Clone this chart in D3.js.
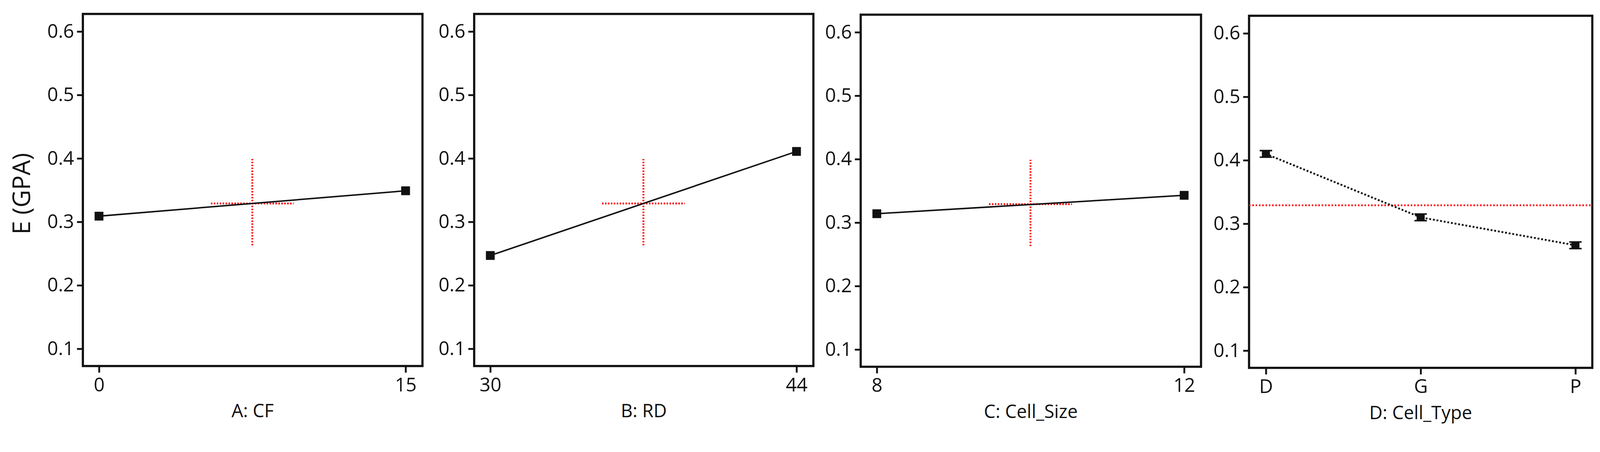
<!DOCTYPE html>
<html>
<head>
<meta charset="utf-8">
<script src="https://d3js.org/d3.v7.min.js"></script>
<style>
  html, body { margin: 0; padding: 0; background: #fff; overflow: hidden; }
  svg { display: block; }
  text { font-family: "Open Sans", sans-serif; fill: #111; }
</style>
</head>
<body>
<div id="chart"></div>
<script>
// factor settings and predicted E (GPA)
var factorTitles = ["A: CF", "B: RD", "C: Cell_Size", "D: Cell_Type"];
var levelsA = [0, 15], valuesA = [0.309, 0.349];
var levelsB = [30, 44], valuesB = [0.247, 0.411];
var levelsC = [8, 12], valuesC = [0.314, 0.343];
var levelsD = ["D", "G", "P"], valuesD = [0.410, 0.310, 0.266];
var yTicks = [0.1, 0.2, 0.3, 0.4, 0.5, 0.6];
var meanE = 0.329, crossLow = 0.263, crossHigh = 0.399;

var width = 4363, height = 1157;
var svg = d3.select("#chart").append("svg")
    .attr("viewBox", "0 0 " + width + " " + height)
    .attr("preserveAspectRatio", "xMinYMin meet")
    .style("width", "100vw").style("height", "100vh");

var panels = [
    {left: 226, right: 1152, top: 38, bottom: 998, levels: levelsA, values: valuesA},
    {left: 1293, right: 2218, top: 38, bottom: 998, levels: levelsB, values: valuesB},
    {left: 2347, right: 3275, top: 40, bottom: 1000, levels: levelsC, values: valuesC},
    {left: 3406, right: 4342, top: 43, bottom: 1003, levels: levelsD, values: valuesD, cat: true}
];

panels.forEach(function(p, i) {
    var g = svg.append("g");
    var y = d3.scaleLinear().domain([0.0728, 0.6277]).range([p.bottom, p.top]);
    var x;
    if (p.cat) {
        x = d3.scalePoint().domain(p.levels).range([p.left + 46, p.right - 46]);
    } else {
        x = d3.scaleLinear().domain(p.levels).range([p.left + 44, p.right - 46]);
    }

    var ya = g.append("g").attr("transform", "translate(" + p.left + ",0)")
        .call(d3.axisLeft(y).tickValues(yTicks).tickSize(16).tickPadding(8).tickFormat(d3.format(".1f")));
    var xAxis = d3.axisBottom(x).tickValues(p.levels).tickSize(18).tickPadding(14);
    if (!p.cat) xAxis.tickFormat(d3.format("d"));
    var xa = g.append("g").attr("transform", "translate(0," + p.bottom + ")").call(xAxis);
    [ya, xa].forEach(function(a) {
        a.select(".domain").remove();
        a.selectAll("line").attr("stroke", "#111").attr("stroke-width", 5);
        a.selectAll("text").style("font-size", "52px").style("font-family", "Open Sans").attr("fill", "#111");
    });

    g.append("rect").attr("x", p.left).attr("y", p.top)
        .attr("width", p.right - p.left).attr("height", p.bottom - p.top)
        .attr("fill", "none").attr("stroke", "#111").attr("stroke-width", 6);

    g.append("text").attr("x", (p.left + p.right) / 2).attr("y", p.bottom + 140)
        .attr("text-anchor", "middle").style("font-size", "50px").text(factorTitles[i]);

    // red reference
    if (p.cat) {
        g.append("line").attr("x1", p.left).attr("x2", p.right)
            .attr("y1", y(meanE)).attr("y2", y(meanE))
            .attr("stroke", "#f00").attr("stroke-width", 5).attr("stroke-dasharray", "4,5");
    } else {
        var d0 = p.levels[0], d1 = p.levels[1], mid = (d0 + d1) / 2, hw = (d1 - d0) * 0.135;
        g.append("line").attr("x1", x(mid - hw)).attr("x2", x(mid + hw))
            .attr("y1", y(meanE)).attr("y2", y(meanE))
            .attr("stroke", "#f00").attr("stroke-width", 5).attr("stroke-dasharray", "4,4");
        g.append("line").attr("x1", x(mid)).attr("x2", x(mid))
            .attr("y1", y(crossLow)).attr("y2", y(crossHigh))
            .attr("stroke", "#f00").attr("stroke-width", 5).attr("stroke-dasharray", "4,4");
    }

    var pts = p.levels.map(function(l, j) { return [x(l), y(p.values[j])]; });
    g.append("path").attr("d", d3.line()(pts)).attr("fill", "none")
        .attr("stroke", "#111").attr("stroke-width", p.cat ? 5 : 4)
        .attr("stroke-dasharray", p.cat ? "5,5" : null);

    if (p.cat) {
        g.selectAll(".mk").data(pts).enter().append("path")
            .attr("d", function(d) {
                var cx = d[0], cy = d[1];
                return "M" + (cx - 17) + "," + (cy - 11) + "H" + (cx + 17) + "V" + (cy - 7) + "H" + (cx + 11) +
                    "V" + (cy + 7) + "H" + (cx + 17) + "V" + (cy + 11) + "H" + (cx - 17) + "V" + (cy + 7) +
                    "H" + (cx - 11) + "V" + (cy - 7) + "H" + (cx - 17) + "Z";
            })
            .attr("fill", "#111");
    } else {
        g.selectAll(".mk").data(pts).enter().append("rect")
            .attr("x", function(d) { return d[0] - 12; })
            .attr("y", function(d) { return d[1] - 12; })
            .attr("width", 24).attr("height", 24).attr("fill", "#111");
    }
});

svg.append("text").attr("transform", "translate(82,528) rotate(-90)")
    .attr("text-anchor", "middle").style("font-size", "66px").text("E (GPA)");
</script>
</body>
</html>
